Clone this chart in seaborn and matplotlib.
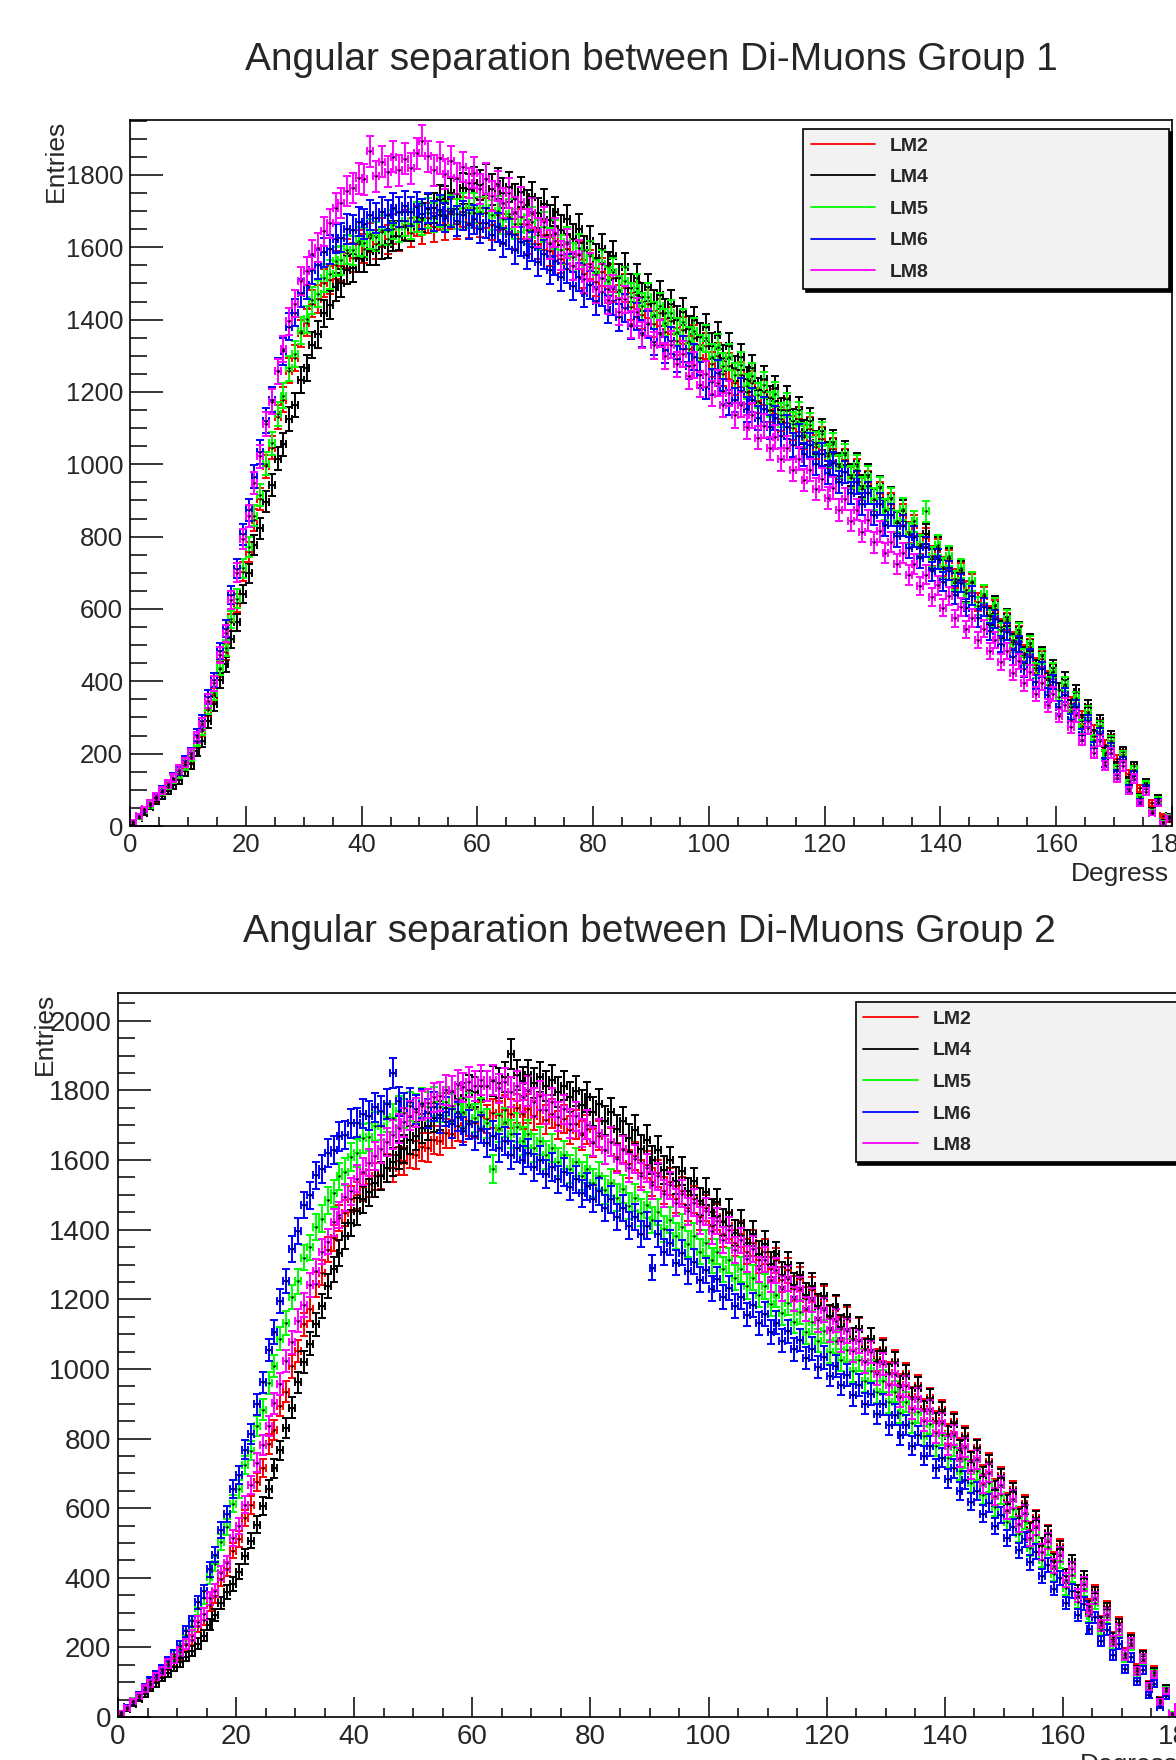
import numpy as np
import pandas as pd
import matplotlib
matplotlib.use("Agg")
import matplotlib.pyplot as plt
from matplotlib.ticker import MultipleLocator
from matplotlib.lines import Line2D
import seaborn as sns

# 1-degree bin centres, 0..180 degrees
DEGREES = np.arange(0.5, 180, 1.0)

SAMPLES = ["LM2", "LM4", "LM5", "LM6", "LM8"]
COLORS = {"LM2": "#ff0000", "LM4": "#000000", "LM5": "#00ff00",
          "LM6": "#0000ff", "LM8": "#ff00ff"}

# ---- Group 1 entries per bin ----
G1_LM2 = [9, 27, 40, 61, 74, 96, 108, 131, 143, 171,
          189, 231, 264, 322, 362, 433, 481, 563, 617, 703,
          758, 846, 905, 994, 1046, 1131, 1179, 1259, 1294, 1362,
          1391, 1444, 1457, 1502, 1509, 1551, 1547, 1583, 1571, 1608,
          1596, 1626, 1609, 1641, 1622, 1651, 1631, 1662, 1640, 1672,
          1651, 1681, 1655, 1689, 1661, 1693, 1664, 1698, 1667, 1695,
          1668, 1694, 1662, 1688, 1651, 1683, 1637, 1664, 1621, 1649,
          1608, 1633, 1589, 1617, 1568, 1594, 1549, 1579, 1527, 1553,
          1503, 1531, 1484, 1514, 1458, 1488, 1436, 1467, 1412, 1443,
          1388, 1419, 1366, 1397, 1340, 1371, 1318, 1348, 1293, 1327,
          1276, 1299, 1251, 1272, 1226, 1248, 1201, 1224, 1176, 1199,
          1151, 1174, 1126, 1149, 1101, 1124, 1076, 1099, 1048, 1071,
          1022, 1041, 992, 1011, 962, 983, 932, 951, 902, 921,
          872, 891, 842, 861, 812, 831, 779, 796, 747, 766,
          717, 736, 684, 701, 652, 671, 619, 636, 584, 601,
          549, 566, 514, 531, 479, 496, 444, 461, 409, 426,
          376, 391, 338, 351, 300, 316, 263, 276, 223, 236,
          184, 196, 144, 156, 104, 116, 64, 76, 27, 14]
G1_LM4 = [8, 23, 36, 53, 68, 83, 97, 114, 128, 151,
          172, 207, 235, 289, 337, 403, 447, 516, 563, 641,
          699, 777, 823, 897, 943, 1015, 1055, 1126, 1164, 1233,
          1266, 1330, 1359, 1418, 1441, 1490, 1500, 1537, 1543, 1571,
          1572, 1591, 1592, 1607, 1610, 1631, 1632, 1657, 1658, 1683,
          1682, 1707, 1708, 1731, 1729, 1749, 1747, 1763, 1762, 1779,
          1773, 1788, 1760, 1776, 1750, 1767, 1733, 1753, 1717, 1739,
          1695, 1721, 1675, 1699, 1648, 1677, 1623, 1652, 1592, 1618,
          1570, 1596, 1549, 1577, 1515, 1546, 1487, 1514, 1463, 1489,
          1445, 1468, 1419, 1443, 1399, 1422, 1373, 1398, 1353, 1379,
          1327, 1357, 1295, 1327, 1265, 1297, 1235, 1267, 1205, 1237,
          1182, 1210, 1150, 1181, 1120, 1151, 1090, 1121, 1060, 1091,
          1030, 1061, 1000, 1031, 970, 1001, 940, 971, 903, 937,
          873, 907, 838, 872, 808, 842, 773, 807, 738, 772,
          710, 741, 673, 707, 645, 676, 608, 642, 580, 611,
          543, 577, 508, 542, 473, 507, 438, 472, 403, 437,
          375, 405, 330, 370, 290, 330, 250, 290, 203, 247,
          165, 205, 125, 165, 80, 120, 42, 78, 12, 28]
G1_LM5 = [11, 25, 45, 58, 80, 95, 113, 129, 146, 169,
          193, 236, 268, 327, 367, 438, 491, 571, 629, 712,
          771, 858, 916, 1002, 1058, 1139, 1190, 1265, 1305, 1369,
          1401, 1453, 1472, 1514, 1525, 1561, 1564, 1593, 1592, 1617,
          1612, 1637, 1629, 1648, 1646, 1663, 1655, 1673, 1665, 1684,
          1676, 1695, 1682, 1697, 1688, 1703, 1692, 1710, 1695, 1708,
          1697, 1709, 1690, 1701, 1678, 1692, 1665, 1684, 1649, 1670,
          1634, 1656, 1613, 1636, 1593, 1616, 1573, 1597, 1553, 1577,
          1527, 1553, 1507, 1532, 1482, 1508, 1462, 1488, 1437, 1463,
          1412, 1437, 1392, 1418, 1367, 1393, 1342, 1368, 1322, 1348,
          1297, 1323, 1272, 1298, 1246, 1274, 1216, 1244, 1191, 1219,
          1166, 1194, 1136, 1164, 1111, 1139, 1081, 1109, 1056, 1084,
          1025, 1055, 995, 1025, 965, 995, 935, 965, 905, 935,
          875, 905, 843, 877, 808, 842, 778, 870, 743, 777,
          713, 747, 678, 712, 643, 677, 608, 642, 573, 607,
          538, 572, 503, 537, 468, 502, 431, 469, 391, 429,
          357, 393, 317, 353, 277, 313, 237, 273, 197, 233,
          157, 193, 117, 153, 77, 113, 39, 71, 10, 26]
G1_LM6 = [12, 29, 46, 64, 80, 100, 116, 134, 152, 179,
          202, 251, 290, 356, 404, 483, 546, 638, 711, 806,
          874, 966, 1034, 1121, 1179, 1258, 1312, 1381, 1419, 1474,
          1496, 1538, 1552, 1586, 1594, 1624, 1627, 1651, 1649, 1671,
          1664, 1689, 1681, 1697, 1690, 1709, 1697, 1714, 1699, 1711,
          1693, 1708, 1686, 1703, 1682, 1697, 1673, 1688, 1663, 1677,
          1652, 1667, 1633, 1655, 1612, 1637, 1593, 1616, 1579, 1601,
          1559, 1581, 1538, 1562, 1518, 1541, 1492, 1517, 1473, 1497,
          1452, 1477, 1428, 1452, 1407, 1432, 1383, 1408, 1362, 1387,
          1338, 1363, 1317, 1342, 1292, 1318, 1272, 1297, 1247, 1215,
          1228, 1253, 1202, 1170, 1178, 1203, 1152, 1178, 1128, 1152,
          1103, 1128, 1078, 1103, 1053, 1078, 1028, 1053, 1002, 1028,
          977, 1003, 951, 979, 920, 950, 891, 920, 861, 890,
          831, 860, 801, 830, 770, 800, 741, 771, 704, 738,
          675, 706, 639, 672, 604, 637, 575, 606, 538, 572,
          503, 537, 468, 503, 433, 468, 398, 433, 363, 398,
          328, 363, 292, 330, 252, 290, 217, 254, 176, 214,
          142, 178, 102, 139, 67, 103, 35, 66, 8, 23]
G1_LM8 = [13, 27, 47, 63, 82, 98, 117, 133, 155, 176,
          198, 245, 281, 346, 394, 472, 533, 625, 700, 794,
          857, 949, 1022, 1112, 1173, 1257, 1318, 1396, 1444, 1506,
          1534, 1581, 1599, 1644, 1666, 1709, 1722, 1756, 1764, 1791,
          1788, 1865, 1796, 1836, 1809, 1851, 1813, 1845, 1818, 1860,
          1895, 1852, 1813, 1847, 1803, 1838, 1791, 1822, 1778, 1806,
          1762, 1790, 1741, 1770, 1722, 1751, 1697, 1725, 1664, 1694,
          1641, 1670, 1608, 1640, 1578, 1610, 1548, 1581, 1513, 1546,
          1484, 1516, 1454, 1486, 1422, 1456, 1387, 1421, 1358, 1391,
          1329, 1361, 1300, 1331, 1276, 1305, 1244, 1275, 1220, 1250,
          1195, 1225, 1164, 1196, 1135, 1165, 1104, 1135, 1074, 1105,
          1044, 1075, 1014, 1045, 984, 1015, 956, 984, 931, 959,
          906, 934, 874, 905, 844, 875, 814, 845, 784, 815,
          754, 785, 724, 755, 694, 725, 664, 695, 634, 665,
          604, 635, 574, 605, 544, 575, 514, 545, 484, 515,
          454, 485, 424, 455, 394, 425, 364, 395, 334, 365,
          305, 335, 273, 306, 238, 271, 203, 236, 168, 201,
          133, 166, 98, 131, 64, 95, 36, 63, 8, 22]

# ---- Group 2 entries per bin ----
G2_LM2 = [10, 25, 42, 57, 77, 91, 110, 125, 147, 160,
          176, 207, 222, 261, 280, 323, 347, 396, 425, 478,
          511, 572, 609, 674, 715, 784, 825, 894, 935, 1007,
          1052, 1128, 1172, 1243, 1277, 1343, 1377, 1433, 1448, 1488,
          1499, 1522, 1532, 1553, 1556, 1577, 1576, 1597, 1596, 1617,
          1616, 1637, 1636, 1657, 1656, 1677, 1675, 1697, 1692, 1711,
          1706, 1726, 1718, 1735, 1729, 1745, 1733, 1749, 1731, 1748,
          1727, 1744, 1716, 1733, 1701, 1718, 1686, 1703, 1671, 1688,
          1649, 1670, 1630, 1651, 1609, 1631, 1589, 1611, 1562, 1587,
          1537, 1562, 1512, 1538, 1487, 1512, 1462, 1487, 1437, 1462,
          1412, 1437, 1387, 1412, 1362, 1387, 1337, 1362, 1312, 1337,
          1287, 1312, 1256, 1283, 1231, 1258, 1201, 1228, 1176, 1203,
          1146, 1174, 1116, 1144, 1086, 1114, 1056, 1084, 1025, 1055,
          989, 1021, 954, 986, 919, 951, 884, 916, 849, 881,
          813, 847, 773, 807, 738, 772, 698, 732, 658, 692,
          618, 652, 578, 612, 538, 572, 492, 528, 452, 488,
          405, 445, 360, 400, 320, 360, 275, 315, 230, 270,
          185, 225, 140, 180, 95, 135, 50, 82, 10, 28]
G2_LM4 = [7, 22, 38, 53, 67, 84, 97, 113, 127, 143,
          157, 173, 190, 211, 234, 265, 292, 328, 359, 382,
          418, 462, 507, 553, 606, 655, 714, 766, 831, 889,
          961, 1019, 1072, 1128, 1182, 1238, 1287, 1333, 1382, 1419,
          1453, 1487, 1507, 1533, 1554, 1576, 1594, 1616, 1633, 1657,
          1669, 1691, 1698, 1722, 1729, 1751, 1754, 1776, 1779, 1801,
          1796, 1814, 1812, 1828, 1822, 1839, 1905, 1845, 1826, 1844,
          1822, 1839, 1812, 1829, 1796, 1814, 1781, 1799, 1759, 1781,
          1739, 1761, 1713, 1737, 1688, 1712, 1663, 1687, 1631, 1659,
          1601, 1629, 1571, 1599, 1541, 1569, 1511, 1539, 1481, 1509,
          1451, 1479, 1421, 1449, 1391, 1419, 1361, 1389, 1331, 1359,
          1301, 1329, 1271, 1299, 1241, 1269, 1211, 1239, 1181, 1209,
          1151, 1179, 1121, 1149, 1084, 1116, 1054, 1086, 1019, 1051,
          984, 1016, 949, 981, 914, 946, 879, 911, 844, 876,
          808, 842, 768, 802, 733, 767, 693, 727, 653, 687,
          613, 647, 573, 607, 533, 567, 493, 527, 446, 484,
          405, 445, 360, 400, 315, 355, 270, 310, 225, 265,
          180, 220, 135, 175, 90, 130, 48, 82, 10, 28]
G2_LM5 = [13, 27, 47, 63, 84, 99, 120, 136, 157, 175,
          196, 235, 262, 312, 343, 401, 439, 503, 546, 613,
          655, 724, 765, 837, 883, 959, 1009, 1087, 1132, 1207,
          1252, 1320, 1349, 1408, 1432, 1485, 1504, 1553, 1567, 1609,
          1621, 1662, 1667, 1697, 1698, 1723, 1721, 1741, 1735, 1755,
          1747, 1765, 1753, 1768, 1752, 1768, 1748, 1762, 1737, 1752,
          1721, 1738, 1706, 1575, 1692, 1708, 1675, 1694, 1654, 1675,
          1634, 1655, 1614, 1635, 1594, 1615, 1574, 1595, 1554, 1575,
          1534, 1555, 1514, 1535, 1492, 1517, 1468, 1492, 1449, 1471,
          1428, 1451, 1403, 1427, 1383, 1407, 1358, 1382, 1337, 1362,
          1312, 1337, 1287, 1312, 1262, 1287, 1237, 1262, 1212, 1237,
          1187, 1212, 1161, 1188, 1136, 1163, 1105, 1134, 1081, 1108,
          1050, 1079, 1026, 1053, 994, 1025, 964, 995, 934, 965,
          904, 935, 874, 905, 844, 875, 808, 841, 779, 810,
          743, 777, 708, 742, 673, 707, 638, 672, 603, 637,
          561, 599, 526, 563, 486, 524, 451, 488, 411, 449,
          371, 408, 331, 368, 291, 328, 251, 288, 211, 248,
          171, 208, 124, 165, 84, 125, 40, 78, 11, 28]
G2_LM6 = [12, 28, 46, 64, 86, 104, 122, 139, 161, 180,
          203, 246, 275, 329, 361, 424, 466, 537, 583, 655,
          695, 768, 812, 898, 961, 1054, 1106, 1196, 1253, 1344,
          1397, 1471, 1499, 1556, 1574, 1621, 1629, 1668, 1672, 1706,
          1707, 1733, 1728, 1752, 1741, 1761, 1850, 1769, 1751, 1766,
          1746, 1762, 1735, 1753, 1720, 1739, 1705, 1724, 1684, 1703,
          1669, 1689, 1650, 1670, 1634, 1654, 1615, 1635, 1600, 1620,
          1579, 1600, 1560, 1580, 1545, 1565, 1524, 1545, 1505, 1525,
          1489, 1510, 1462, 1487, 1437, 1462, 1412, 1437, 1387, 1412,
          1290, 1388, 1336, 1363, 1305, 1334, 1281, 1308, 1256, 1283,
          1231, 1258, 1206, 1233, 1181, 1208, 1156, 1183, 1131, 1158,
          1106, 1133, 1081, 1108, 1056, 1083, 1031, 1058, 1006, 1033,
          981, 1008, 955, 983, 925, 954, 900, 928, 870, 899,
          840, 869, 810, 839, 780, 809, 750, 779, 714, 745,
          685, 714, 649, 680, 619, 650, 584, 615, 549, 580,
          514, 545, 479, 510, 444, 475, 404, 437, 369, 400,
          328, 362, 293, 326, 253, 286, 218, 251, 178, 211,
          138, 171, 103, 136, 63, 96, 30, 59, 7, 22]
G2_LM8 = [13, 26, 46, 61, 82, 96, 117, 131, 153, 167,
          188, 210, 234, 274, 296, 341, 363, 414, 442, 514,
          549, 610, 666, 731, 781, 837, 901, 957, 1023, 1077,
          1139, 1183, 1241, 1281, 1337, 1366, 1421, 1442, 1493, 1511,
          1547, 1567, 1593, 1611, 1633, 1651, 1673, 1691, 1708, 1727,
          1738, 1756, 1763, 1780, 1783, 1801, 1798, 1815, 1809, 1825,
          1812, 1830, 1812, 1829, 1806, 1823, 1796, 1813, 1780, 1799,
          1766, 1785, 1745, 1766, 1725, 1746, 1705, 1726, 1678, 1702,
          1653, 1678, 1628, 1653, 1603, 1628, 1578, 1603, 1553, 1578,
          1528, 1553, 1503, 1528, 1478, 1503, 1453, 1478, 1426, 1453,
          1396, 1424, 1371, 1398, 1341, 1369, 1316, 1344, 1286, 1314,
          1256, 1284, 1231, 1259, 1201, 1229, 1171, 1199, 1141, 1169,
          1111, 1139, 1081, 1109, 1051, 1079, 1021, 1049, 985, 1015,
          955, 985, 920, 950, 885, 915, 850, 880, 815, 845,
          780, 810, 745, 775, 709, 741, 669, 701, 634, 666,
          594, 626, 554, 586, 514, 546, 474, 506, 434, 466,
          394, 426, 348, 382, 308, 342, 263, 297, 218, 252,
          178, 212, 133, 167, 88, 122, 44, 76, 9, 28]

GROUP1 = {"LM2": G1_LM2, "LM4": G1_LM4, "LM5": G1_LM5, "LM6": G1_LM6, "LM8": G1_LM8}
GROUP2 = {"LM2": G2_LM2, "LM4": G2_LM4, "LM5": G2_LM5, "LM6": G2_LM6, "LM8": G2_LM8}

for grp in (GROUP1, GROUP2):
    for name, vals in grp.items():
        if len(vals) != len(DEGREES):
            raise ValueError(f"{name}: {len(vals)} bins")

sns.set_theme(style="white")
plt.rcParams["font.family"] = ["Liberation Sans", "DejaVu Sans"]
plt.rcParams["axes.edgecolor"] = "black"
plt.rcParams["axes.linewidth"] = 1.2

fig = plt.figure(figsize=(11.76, 17.6), dpi=100)
fig.patch.set_facecolor("white")


def to_frame(group):
    rows = []
    for name in SAMPLES:
        for d, n in zip(DEGREES, group[name]):
            rows.append({"deg": d, "entries": n, "sample": name})
    return pd.DataFrame(rows)


def draw_panel(rect, group, title, title_xy, ymax, tick_fs, lab_fs,
               leg_anchor, handlelen, entries_x, degress_y):
    ax = fig.add_axes(rect)
    df = to_frame(group)
    for name in SAMPLES:
        sub = df[df["sample"] == name]
        ax.errorbar(sub["deg"], sub["entries"], yerr=np.sqrt(sub["entries"]),
                    xerr=0.5, fmt="none", ecolor=COLORS[name], elinewidth=1.4,
                    capsize=3.0, capthick=1.4, zorder=2)
    sns.scatterplot(data=df, x="deg", y="entries", color="black", s=3,
                    linewidth=0, legend=False, ax=ax, zorder=3)

    ax.set_xlim(0, 180)
    ax.set_ylim(0, ymax)
    ax.xaxis.set_major_locator(MultipleLocator(20))
    ax.xaxis.set_minor_locator(MultipleLocator(5))
    ax.yaxis.set_major_locator(MultipleLocator(200))
    ax.yaxis.set_minor_locator(MultipleLocator(50))
    ax.tick_params(axis="x", which="major", direction="in", length=14.5,
                   width=1.1, color="black", labelsize=tick_fs, pad=5,
                   bottom=True, top=False)
    ax.tick_params(axis="x", which="minor", direction="in", length=6.5,
                   width=1.1, color="black", bottom=True, top=False)
    ax.tick_params(axis="y", which="major", direction="in", length=24,
                   width=1.1, color="black", labelsize=tick_fs, pad=5,
                   left=True, right=False)
    ax.tick_params(axis="y", which="minor", direction="in", length=12,
                   width=1.1, color="black", left=True, right=False)
    ax.set_xlabel("")
    ax.set_ylabel("")
    for sp in ax.spines.values():
        sp.set_visible(True)
        sp.set_color("black")
        sp.set_linewidth(1.2)

    ax.text(entries_x, 1.0, "Entries", rotation=90, ha="center", va="top",
            fontsize=lab_fs, transform=ax.transAxes)
    ax.text(0.997, degress_y, "Degress", ha="right", va="center",
            fontsize=lab_fs, transform=ax.transAxes)

    handles = [Line2D([0], [0], color=COLORS[n], lw=1.3) for n in SAMPLES]
    leg = ax.legend(handles, SAMPLES, loc="upper left",
                    bbox_to_anchor=leg_anchor, mode="expand",
                    borderaxespad=0, borderpad=0.4, labelspacing=0.72,
                    handlelength=handlelen, handletextpad=0.75,
                    prop={"weight": "bold", "size": 14},
                    fancybox=False, frameon=True, facecolor="#f2f2f2",
                    edgecolor="black", framealpha=1,
                    shadow={"ox": 2, "oy": -2, "color": "black", "alpha": 1})
    leg.get_frame().set_linewidth(1.2)
    leg.set_zorder(5)

    fig.text(title_xy[0], title_xy[1], title, ha="center", va="center",
             fontsize=28)
    return ax


# Panel 1 (top)
draw_panel([130 / 1176, 1 - 826 / 1760, 1042 / 1176, 706 / 1760],
           GROUP1, "Angular separation between Di-Muons Group 1",
           (651 / 1176, 1 - 60 / 1760), 1952, 18.5, 19,
           (0.646, 0.762, 0.351, 0.225), 3.3, -0.071, -0.068)

# Panel 2 (bottom, runs slightly past the right edge)
draw_panel([118 / 1176, 1 - 1717 / 1760, 1063 / 1176, 724 / 1760],
           GROUP2, "Angular separation between Di-Muons Group 2",
           (649.5 / 1176, 1 - 932 / 1760), 2080, 20, 19,
           (0.694, 0.762, 0.303, 0.225), 2.8, -0.069, -0.066)

fig.savefig("out.png", dpi=100, facecolor="white")
